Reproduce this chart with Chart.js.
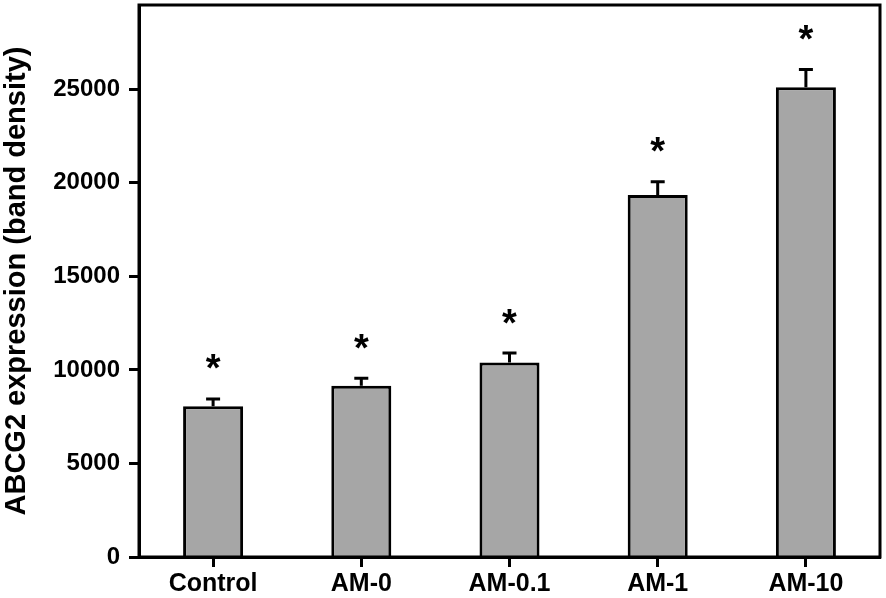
<!DOCTYPE html>
<html>
<head>
<meta charset="utf-8">
<script src="https://cdn.jsdelivr.net/npm/chart.js@4.4.1/dist/chart.umd.min.js"></script>
<style>
  html, body { margin: 0; padding: 0; background: #fff; }
  canvas { display: block; }
</style>
</head>
<body>
<canvas id="c" width="886" height="598"></canvas>
<script>
var categories = ['Control', 'AM-0', 'AM-0.1', 'AM-1', 'AM-10'];
var means = [8050, 9150, 10400, 19350, 25100];
var errors = [400, 400, 500, 700, 950];
var significant = [true, true, true, true, true];
var yTicks = [0, 5000, 10000, 15000, 20000, 25000];

var FONT = '"Liberation Sans", Arial, sans-serif';

// error bars + stars + frame box
var extras = {
  id: 'extras',
  afterDatasetsDraw: function(chart){
    var ctx = chart.ctx;
    var meta = chart.getDatasetMeta(0);
    var y = chart.scales.y;
    ctx.save();
    ctx.strokeStyle = '#000';
    ctx.fillStyle = '#000';
    ctx.lineWidth = 3;
    for (var i = 0; i < means.length; i++) {
      var bar = meta.data[i];
      var top = y.getPixelForValue(means[i]);
      var errTop = y.getPixelForValue(means[i] + errors[i]);
      ctx.beginPath();
      ctx.moveTo(bar.x, top);
      ctx.lineTo(bar.x, errTop);
      ctx.moveTo(bar.x - 7, errTop);
      ctx.lineTo(bar.x + 7, errTop);
      ctx.stroke();
      if (significant[i]) {
        ctx.font = 'bold 38px ' + FONT;
        ctx.textAlign = 'center';
        ctx.textBaseline = 'middle';
        ctx.fillText('*', bar.x, errTop - 28);
      }
    }
    var a = chart.chartArea;
    ctx.strokeRect(a.left, a.top, a.right - a.left, a.bottom - a.top);
    ctx.restore();
  }
};

new Chart(document.getElementById('c'), {
  type: 'bar',
  data: {
    labels: categories,
    datasets: [{
      data: means,
      backgroundColor: '#a6a6a6',
      borderColor: '#000',
      borderWidth: 3,
      borderSkipped: 'bottom',
      barPercentage: 0.81,
      categoryPercentage: 0.5
    }]
  },
  options: {
    responsive: false,
    devicePixelRatio: 1,
    animation: false,
    layout: { padding: { top: 5, right: 6, left: 0, bottom: 0 } },
    plugins: { legend: { display: false }, tooltip: { enabled: false } },
    scales: {
      x: {
        offset: true,
        grid: { display: true, offset: false, drawOnChartArea: false, drawTicks: true, tickLength: 10, tickWidth: 3, tickColor: '#000' },
        border: { display: true, color: '#000', width: 3 },
        ticks: { color: '#000', padding: 2, font: { family: FONT, size: 25, weight: 'bold' }, maxRotation: 0 },
        afterFit: function(s){ s.height = 41; s.paddingLeft = 0; s.paddingRight = 0; }
      },
      y: {
        min: 0,
        max: 29500,
        afterBuildTicks: function(s){
          s.ticks = yTicks.map(function(v){ return { value: v }; });
        },
        grid: { display: true, drawOnChartArea: false, drawTicks: true, tickLength: 10, tickWidth: 3, tickColor: '#000' },
        border: { display: true, color: '#000', width: 3 },
        ticks: {
          color: '#000', padding: 9, font: { family: FONT, size: 24, weight: 'bold' },
          callback: function(v){ return String(v); }
        },
        title: {
          display: true,
          text: 'ABCG2 expression (band density)',
          color: '#000',
          font: { family: FONT, size: 29, weight: 'bold' },
          padding: { top: 0, bottom: 0 }
        },
        afterFit: function(s){ s.width = 139; s.paddingTop = 0; s.paddingBottom = 0; }
      }
    }
  },
  plugins: [extras]
});
</script>
</body>
</html>
